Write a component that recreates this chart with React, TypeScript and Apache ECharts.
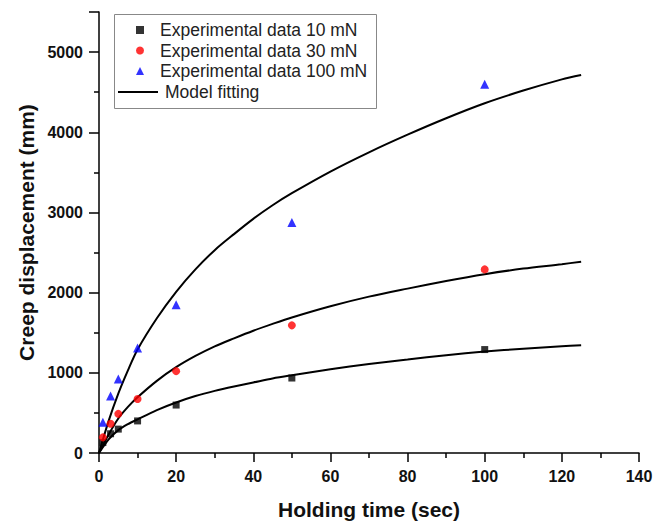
import React, { useEffect, useRef } from "react";
import * as echarts from "echarts";

const timeExp = [1, 3, 5, 10, 20, 50, 100];
const exp10 = [130, 240, 298, 400, 598, 935, 1290];
const exp30 = [195, 364, 488, 674, 1021, 1592, 2290];
const exp100 = [385, 711, 922, 1311, 1849, 2875, 4600];

const fitTime = [0, 2.5, 5, 7.5, 10, 15, 20, 25, 30, 35, 40, 45, 50, 60, 70, 80, 90, 100, 110, 120, 125];
const fitTop = [0, 400, 740, 1030, 1290, 1680, 2010, 2290, 2530, 2730, 2920, 3090, 3240, 3510, 3750, 3970, 4175, 4362, 4520, 4660, 4715];
const fitMid = [0, 230, 430, 575, 695, 900, 1070, 1210, 1330, 1430, 1525, 1610, 1690, 1830, 1950, 2050, 2145, 2230, 2300, 2355, 2386];
const fitLow = [0, 170, 285, 360, 420, 535, 630, 710, 775, 830, 880, 930, 970, 1045, 1110, 1165, 1220, 1265, 1300, 1330, 1344];

const xTicks = { min: 0, max: 140, interval: 20 };
const yTicks = { min: 0, max: 5500, interval: 1000 };

const names = [
  "Experimental data 10 mN",
  "Experimental data 30 mN",
  "Experimental data 100 mN",
];
const fitName = "Model fitting";

const FONT = "'Liberation Sans', Arial, Helvetica, sans-serif";

export default function App() {
  const ref = useRef<HTMLDivElement>(null);
  useEffect(() => {
    if (!ref.current) return;
    const chart = echarts.init(ref.current, undefined, { renderer: "svg" });
    const pair = (xs: number[], arr: number[]) => xs.map((t, i) => [t, arr[i]]);
    const lineSeries = (vals: number[]) => ({
      type: "line",
      name: fitName,
      data: pair(fitTime, vals),
      smooth: 0.3,
      symbol: "none",
      showSymbol: false,
      lineStyle: { color: "#000", width: 2 },
      itemStyle: { color: "#000" },
      z: 2,
    });
    const legendText = {
      fontFamily: FONT,
      fontSize: 17.5,
      color: "#222",
      lineHeight: 18,
    };
    chart.setOption({
      animation: false,
      backgroundColor: "#fff",
      textStyle: { fontFamily: FONT },
      grid: { left: 99, right: 25, top: 12, bottom: 70 },
      legend: [
        {
          data: names,
          orient: "vertical",
          left: 136,
          top: 21,
          padding: 0,
          itemWidth: 8,
          itemHeight: 8,
          itemGap: 2.5,
          textStyle: { ...legendText, padding: [0, 0, 0, 11] },
        },
        {
          data: [{ name: fitName, icon: "rect" }],
          orient: "vertical",
          left: 118,
          top: 83,
          padding: 0,
          itemWidth: 40,
          itemHeight: 2,
          textStyle: { ...legendText, padding: [0, 0, 0, 2] },
        },
      ],
      graphic: [
        {
          type: "rect",
          left: 112,
          top: 12,
          shape: { width: 262, height: 94 },
          style: { fill: "none", stroke: "#888", lineWidth: 1 },
          z: 100,
        },
      ],
      xAxis: {
        type: "value",
        ...xTicks,
        name: "Holding time (sec)",
        nameLocation: "middle",
        nameGap: 46,
        nameTextStyle: { fontFamily: FONT, fontSize: 21, fontWeight: "bold", color: "#111" },
        axisLine: { show: true, lineStyle: { color: "#000", width: 1.5 } },
        axisTick: { show: true, inside: false, length: 9, lineStyle: { color: "#000", width: 1.5 } },
        minorTick: { show: true, splitNumber: 2, length: 5, lineStyle: { color: "#000", width: 1.5 } },
        splitLine: { show: false },
        axisLabel: { fontFamily: FONT, fontSize: 16, fontWeight: "bold", color: "#111", margin: 15 },
      },
      yAxis: {
        type: "value",
        ...yTicks,
        name: "Creep displacement (mm)",
        nameLocation: "middle",
        nameGap: 58,
        nameTextStyle: { fontFamily: FONT, fontSize: 21, fontWeight: "bold", color: "#111" },
        axisLine: { show: true, lineStyle: { color: "#000", width: 1.5 } },
        axisTick: { show: true, inside: false, length: 10, lineStyle: { color: "#000", width: 1.5 } },
        minorTick: { show: true, splitNumber: 2, length: 5, lineStyle: { color: "#000", width: 1.5 } },
        splitLine: { show: false },
        axisLabel: {
          fontFamily: FONT,
          fontSize: 16,
          fontWeight: "bold",
          color: "#111",
          margin: 16,
          showMaxLabel: false,
          formatter: (v: number) => String(v),
        },
      },
      series: [
        lineSeries(fitTop),
        lineSeries(fitMid),
        lineSeries(fitLow),
        {
          type: "scatter",
          name: names[0],
          data: pair(timeExp, exp10),
          symbol: "rect",
          symbolSize: 7,
          itemStyle: { color: "#000" },
          z: 3,
        },
        {
          type: "scatter",
          name: names[1],
          data: pair(timeExp, exp30),
          symbol: "circle",
          symbolSize: 8,
          itemStyle: { color: "#ff0000" },
          z: 3,
        },
        {
          type: "scatter",
          name: names[2],
          data: pair(timeExp, exp100),
          symbol: "triangle",
          symbolSize: 9,
          itemStyle: { color: "#0000ff" },
          z: 3,
        },
      ],
    });
    return () => chart.dispose();
  }, []);
  return (
    <div
      ref={ref}
      style={{ position: "fixed", left: 0, top: 0, width: 664, height: 525 }}
    />
  );
}
